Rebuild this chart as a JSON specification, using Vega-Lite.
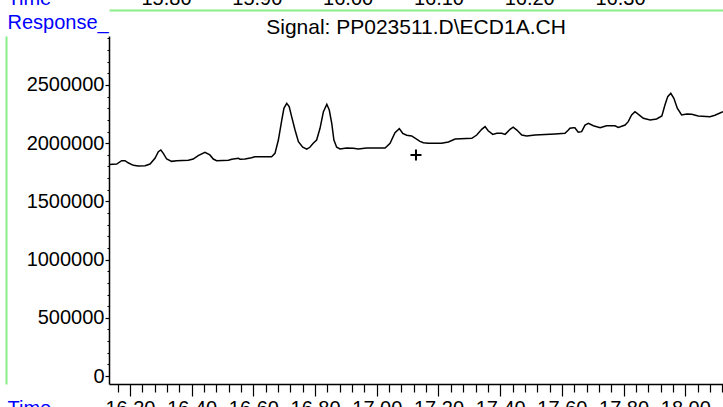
{
  "$schema": "https://vega.github.io/schema/vega-lite/v6.json",
  "width": 614,
  "height": 348,
  "autosize": {"type": "none"},
  "padding": {"left": 109, "top": 36, "right": 0, "bottom": 23},
  "background": "white",
  "config": {"font": "Liberation Sans", "view": {"stroke": null}},
  "title": {"text": "Signal: PP023511.D\\ECD1A.CH", "fontSize": 21, "fontWeight": "normal", "color": "black", "anchor": "middle", "frame": "group", "baseline": "alphabetic", "offset": 4, "dy": 70},
  "layer": [
    {
      "data": {"values": [
        {"time": 16.132, "value": 1817000}, {"time": 16.157, "value": 1821000}, {"time": 16.173, "value": 1850000}, {"time": 16.184, "value": 1850000},
        {"time": 16.194, "value": 1832000}, {"time": 16.211, "value": 1810000}, {"time": 16.227, "value": 1804000}, {"time": 16.249, "value": 1807000},
        {"time": 16.265, "value": 1821000}, {"time": 16.281, "value": 1870000}, {"time": 16.292, "value": 1927000}, {"time": 16.300, "value": 1942000},
        {"time": 16.308, "value": 1913000}, {"time": 16.319, "value": 1864000}, {"time": 16.335, "value": 1844000}, {"time": 16.351, "value": 1850000},
        {"time": 16.389, "value": 1853000}, {"time": 16.405, "value": 1864000}, {"time": 16.421, "value": 1893000}, {"time": 16.443, "value": 1922000},
        {"time": 16.459, "value": 1899000}, {"time": 16.470, "value": 1864000}, {"time": 16.481, "value": 1850000}, {"time": 16.519, "value": 1853000},
        {"time": 16.530, "value": 1862000}, {"time": 16.551, "value": 1870000}, {"time": 16.557, "value": 1862000}, {"time": 16.573, "value": 1864000},
        {"time": 16.594, "value": 1875000}, {"time": 16.605, "value": 1884000}, {"time": 16.638, "value": 1884000}, {"time": 16.659, "value": 1884000},
        {"time": 16.670, "value": 1913000}, {"time": 16.681, "value": 2027000}, {"time": 16.692, "value": 2199000}, {"time": 16.699, "value": 2300000},
        {"time": 16.708, "value": 2343000}, {"time": 16.716, "value": 2314000}, {"time": 16.724, "value": 2228000}, {"time": 16.735, "value": 2113000},
        {"time": 16.746, "value": 2013000}, {"time": 16.760, "value": 1965000}, {"time": 16.773, "value": 1948000}, {"time": 16.783, "value": 1965000},
        {"time": 16.794, "value": 1999000}, {"time": 16.805, "value": 2027000}, {"time": 16.816, "value": 2128000}, {"time": 16.827, "value": 2271000},
        {"time": 16.838, "value": 2334000}, {"time": 16.846, "value": 2285000}, {"time": 16.854, "value": 2171000}, {"time": 16.861, "value": 2027000},
        {"time": 16.870, "value": 1965000}, {"time": 16.881, "value": 1950000}, {"time": 16.902, "value": 1959000}, {"time": 16.924, "value": 1956000},
        {"time": 16.940, "value": 1950000}, {"time": 16.967, "value": 1959000}, {"time": 17.027, "value": 1959000}, {"time": 17.043, "value": 1999000},
        {"time": 17.059, "value": 2090000}, {"time": 17.073, "value": 2125000}, {"time": 17.084, "value": 2085000}, {"time": 17.097, "value": 2068000},
        {"time": 17.113, "value": 2062000}, {"time": 17.129, "value": 2034000}, {"time": 17.140, "value": 2016000}, {"time": 17.151, "value": 2004000},
        {"time": 17.167, "value": 1999000}, {"time": 17.210, "value": 1999000}, {"time": 17.232, "value": 2010000}, {"time": 17.254, "value": 2036000},
        {"time": 17.308, "value": 2042000}, {"time": 17.324, "value": 2070000}, {"time": 17.340, "value": 2119000}, {"time": 17.351, "value": 2142000},
        {"time": 17.361, "value": 2107000}, {"time": 17.376, "value": 2076000}, {"time": 17.389, "value": 2085000}, {"time": 17.405, "value": 2085000},
        {"time": 17.416, "value": 2076000}, {"time": 17.432, "value": 2119000}, {"time": 17.442, "value": 2137000}, {"time": 17.454, "value": 2113000},
        {"time": 17.470, "value": 2070000}, {"time": 17.486, "value": 2062000}, {"time": 17.513, "value": 2070000}, {"time": 17.578, "value": 2079000},
        {"time": 17.610, "value": 2085000}, {"time": 17.621, "value": 2113000}, {"time": 17.626, "value": 2128000}, {"time": 17.637, "value": 2133000},
        {"time": 17.642, "value": 2133000}, {"time": 17.653, "value": 2094000}, {"time": 17.664, "value": 2099000}, {"time": 17.675, "value": 2156000},
        {"time": 17.686, "value": 2171000}, {"time": 17.702, "value": 2150000}, {"time": 17.724, "value": 2133000}, {"time": 17.734, "value": 2142000},
        {"time": 17.745, "value": 2150000}, {"time": 17.772, "value": 2150000}, {"time": 17.783, "value": 2136000}, {"time": 17.805, "value": 2156000},
        {"time": 17.815, "value": 2185000}, {"time": 17.826, "value": 2242000}, {"time": 17.837, "value": 2271000}, {"time": 17.848, "value": 2248000},
        {"time": 17.864, "value": 2214000}, {"time": 17.886, "value": 2199000}, {"time": 17.907, "value": 2208000}, {"time": 17.924, "value": 2234000},
        {"time": 17.934, "value": 2328000}, {"time": 17.943, "value": 2400000}, {"time": 17.953, "value": 2429000}, {"time": 17.963, "value": 2386000},
        {"time": 17.974, "value": 2300000}, {"time": 17.988, "value": 2242000}, {"time": 18.005, "value": 2251000}, {"time": 18.021, "value": 2248000},
        {"time": 18.042, "value": 2234000}, {"time": 18.080, "value": 2228000}, {"time": 18.096, "value": 2240000}, {"time": 18.122, "value": 2271000}
      ]},
      "mark": {"type": "line", "color": "black", "strokeWidth": 1.5, "clip": true},
      "encoding": {
        "x": {"field": "time", "type": "quantitative",
          "scale": {"domain": [16.132, 18.1222], "nice": false, "zero": false},
          "axis": {"orient": "bottom", "values": [16.2, 16.4, 16.6, 16.8, 17.0, 17.2, 17.4, 17.6, 17.8, 18.0], "format": ".2f",
            "tickSize": 12, "tickColor": "black", "tickWidth": 1.2, "domainColor": "black", "domainWidth": 1.5,
            "labelFontSize": 20, "labelColor": "black", "labelPadding": 18, "labelBaseline": "alphabetic", "labelFlush": false, "labelOverlap": false,
            "grid": false, "title": "Time", "titleColor": "#0000ff", "titleFontSize": 20, "titleFontWeight": "normal",
            "titleAlign": "left", "titleBaseline": "alphabetic", "titleX": -102, "titleY": 30}},
        "y": {"field": "value", "type": "quantitative",
          "scale": {"domain": [-68728, 2920940], "nice": false, "zero": false},
          "axis": {"orient": "left", "values": [0, 500000, 1000000, 1500000, 2000000, 2500000], "format": "d",
            "tickSize": 4, "tickColor": "black", "tickWidth": 1.2, "domainColor": "black", "domainWidth": 1.5,
            "labelFontSize": 20, "labelColor": "black", "labelPadding": 1, "labelOverlap": false, "labelFlush": false,
            "grid": false, "title": "Response_", "titleAngle": 0, "titleColor": "#0000ff", "titleFontSize": 20, "titleFontWeight": "normal",
            "titleAlign": "left", "titleBaseline": "alphabetic", "titleX": -102, "titleY": -8}}
      }
    },
    {
      "data": {"values": [{"time": 17.127, "value": 1898600}]},
      "mark": {"type": "point", "shape": "M-1,0L1,0M0,-1L0,1", "filled": false, "stroke": "black", "strokeWidth": 2, "size": 121, "opacity": 1},
      "encoding": {
        "x": {"field": "time", "type": "quantitative",
          "scale": {"domain": [16.132, 18.1222], "nice": false, "zero": false},
          "axis": {"orient": "bottom", "values": [16.16, 16.24, 16.28, 16.32, 16.36, 16.44, 16.48, 16.52, 16.56, 16.64, 16.68, 16.72, 16.76, 16.84, 16.88, 16.92, 16.96, 17.04, 17.08, 17.12, 17.16, 17.24, 17.28, 17.32, 17.36, 17.44, 17.48, 17.52, 17.56, 17.64, 17.68, 17.72, 17.76, 17.84, 17.88, 17.92, 17.96, 18.04, 18.08, 18.12],
            "tickSize": 8, "tickColor": "black", "tickWidth": 1.2, "labels": false, "domain": false, "title": null, "grid": false}},
        "y": {"field": "value", "type": "quantitative",
          "axis": {"orient": "left", "values": [100000, 200000, 300000, 400000, 600000, 700000, 800000, 900000, 1100000, 1200000, 1300000, 1400000, 1600000, 1700000, 1800000, 1900000, 2100000, 2200000, 2300000, 2400000, 2600000, 2700000, 2800000, 2900000],
            "tickSize": 2, "tickColor": "black", "tickWidth": 1, "labels": false, "domain": false, "title": null, "grid": false}}
      }
    },
    {
      "data": {"values": [{"a": 1}]},
      "mark": {"type": "point", "opacity": 0},
      "encoding": {
        "x": {"datum": 16.0, "type": "quantitative",
          "scale": {"domain": [15.7372, 16.4134], "nice": false, "zero": false},
          "axis": {"orient": "top", "offset": 26, "values": [15.8, 15.9, 16.0, 16.1, 16.2, 16.3], "format": ".2f",
            "ticks": false, "tickSize": 0, "domainColor": "#88ee88", "domainWidth": 2,
            "labelFontSize": 20, "labelColor": "black", "labelPadding": 5.5, "labelBaseline": "alphabetic", "labelFlush": false, "labelOverlap": false,
            "grid": false, "title": "Time", "titleColor": "#0000ff", "titleFontSize": 20, "titleFontWeight": "normal",
            "titleAlign": "left", "titleBaseline": "alphabetic", "titleX": -102, "titleY": -5.5}},
        "y": {"datum": 0, "type": "quantitative",
          "axis": {"orient": "left", "offset": 103, "domainColor": "#88ee88", "domainWidth": 2, "ticks": false, "labels": false, "title": null, "grid": false}}
      }
    }
  ],
  "resolve": {"scale": {"x": "independent", "y": "shared"}, "axis": {"x": "independent", "y": "independent"}}
}
